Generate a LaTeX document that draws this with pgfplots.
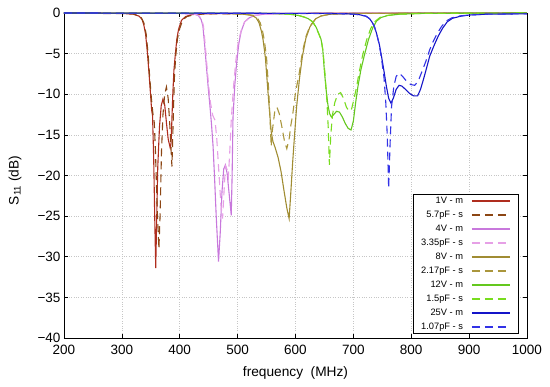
\documentclass[border=0pt]{standalone}
\usepackage{fontspec}
\setmainfont{Liberation Sans}
\usepackage{pgfplots}
\pgfplotsset{compat=1.18}
\definecolor{cA}{RGB}{175,45,30}
\definecolor{cB}{RGB}{140,70,20}
\definecolor{cC}{RGB}{200,120,220}
\definecolor{cD}{RGB}{230,160,230}
\definecolor{cE}{RGB}{160,140,50}
\definecolor{cF}{RGB}{170,150,60}
\definecolor{cG}{RGB}{100,200,30}
\definecolor{cH}{RGB}{120,220,30}
\definecolor{cI}{RGB}{20,20,200}
\definecolor{cJ}{RGB}{50,50,230}
\pgfplotsset{
  sol/.style={color=#1, draw=#1, line width=1.1pt, solid},
  das/.style={color=#1, draw=#1, line width=1.1pt, dash pattern=on 8pt off 5pt},
}
\begin{document}
\begin{tikzpicture}
\begin{axis}[at={(0,0)}, anchor=south west, scale only axis, width=463pt, height=325pt,
  xmin=200, xmax=1000, ymin=-40, ymax=0,
  xtick={200,300,...,1000}, ytick={-40,-35,...,0},
  yticklabels={−40,−35,−30,−25,−20,−15,−10,−5,0},
  tick align=inside, major tick length=4pt, tick style={black, line width=0.6pt},
  grid=major, major grid style={dotted, gray!45, line width=0.6pt},
  axis line style={black, line width=0.8pt},
  /pgf/number format/assume math mode=true,
  /pgf/number format/1000 sep={},
  tick label style={font=\fontsize{13.5}{15}\selectfont},
  xticklabel style={yshift=-4pt},
  xlabel={\fontsize{13.7}{16}\selectfont frequency\ \ (MHz)},
  ylabel={\fontsize{13.7}{16}\selectfont S\textsubscript{11} (dB)},
  every axis x label/.style={at={(axis description cs:0.5,0)}, anchor=base, yshift=-39pt},
  every axis y label/.style={at={([xshift=-49pt,yshift=-5pt]axis description cs:0,0.5)}, rotate=90, anchor=center},
  legend plot pos=right,
  legend cell align=right,
  legend image code/.code={\draw[#1, line width=1.5pt] (0pt,0pt) -- (38pt,0pt);},
  legend style={at={(rel axis cs:0.9827,0.0123)}, anchor=south east, draw=black, line width=0.8pt,
    font=\fontsize{9.3}{10}\selectfont, inner xsep=8pt, inner ysep=2pt, row sep=5pt, column sep=8pt,
    nodes={text height=6.5pt, text depth=2.5pt, inner sep=0pt}},
]
\addplot[sol=cA] coordinates {(200,0) (300,-0.05) (320,-0.15) (330,-0.4) (335,-0.8) (338,-1.5) (341,-2.6) (344,-4.8) (347,-7.5) (349.5,-10) (351.5,-12) (353,-12.6) (355,-18) (357,-26) (358.5,-31.4) (360,-26) (362,-19) (365,-14) (368,-11.4) (371,-10.6) (374,-11.3) (377,-13.5) (380,-15.5) (383.5,-16.6) (385,-16) (386.5,-13) (388,-10) (390,-7) (392.5,-5) (395,-3.2) (398,-2) (403,-0.9) (410,-0.45) (420,-0.2) (440,-0.1) (500,-0.05) (1000,0)};
\addlegendentry{1V - m}
\addplot[das=cB] coordinates {(200,0) (320,-0.1) (333,-0.5) (338,-1.2) (342,-2.6) (345,-4.8) (348,-7.8) (351,-10.5) (353.5,-12.3) (356,-13.5) (358,-17) (361,-24) (364,-29) (366,-25) (368.5,-17) (371,-12.5) (374,-10) (377,-9.1) (380,-10.5) (383,-14) (386.5,-18.9) (388,-15) (389.5,-11) (391,-7.5) (393.5,-5) (396,-3.2) (400,-1.9) (405,-0.9) (412,-0.45) (425,-0.2) (450,-0.1) (1000,0)};
\addlegendentry{5.7pF - s}
\addplot[sol=cC] coordinates {(200,0) (400,-0.05) (425,-0.15) (432,-0.3) (437,-0.8) (440,-1.6) (443,-3.9) (446,-6.5) (449,-9) (452,-11.3) (455,-13.8) (457.5,-16.3) (460,-20) (463,-25) (467,-30.6) (470,-27) (473,-22) (476,-19.2) (479,-18.7) (482,-19.8) (485,-22) (489,-24.9) (490.5,-20) (492,-12.9) (495,-9) (498,-6.4) (502,-3.8) (506,-2.3) (512,-1.1) (520,-0.6) (530,-0.3) (545,-0.15) (600,-0.05) (1000,0)};
\addlegendentry{4V - m}
\addplot[das=cD] coordinates {(200,0) (400,-0.05) (426,-0.15) (433,-0.3) (438,-0.8) (441,-1.6) (444,-3.9) (447,-6.5) (450,-9) (453,-11) (457,-12.6) (461,-13.2) (464,-15.5) (468,-20) (471,-23.5) (474,-25.3) (476.5,-22) (479,-18.8) (481.5,-19.2) (484,-20.2) (486.5,-17) (489,-13.2) (493,-9) (497,-5.8) (501,-3.6) (506,-2.2) (512,-1.1) (520,-0.6) (530,-0.3) (545,-0.15) (600,-0.05) (1000,0)};
\addlegendentry{3.35pF - s}
\addplot[sol=cE] coordinates {(200,0) (480,-0.05) (510,-0.15) (525,-0.3) (532,-0.6) (537,-1.2) (541,-2.2) (544,-3.3) (548,-5.5) (552,-9.3) (555,-12) (558,-14.6) (561,-15.8) (565,-16.6) (570,-17.8) (575,-19.5) (580,-21.8) (585,-24) (589,-25.3) (592,-22) (595,-18.5) (598,-15.4) (602,-11.5) (607,-8) (612,-5.3) (618,-3.1) (625,-1.7) (635,-0.7) (645,-0.35) (660,-0.15) (700,-0.05) (1000,0)};
\addlegendentry{8V - m}
\addplot[das=cF] coordinates {(200,0) (480,-0.05) (512,-0.15) (527,-0.3) (534,-0.6) (539,-1.2) (543,-2.2) (546,-3.3) (550,-5.5) (553.5,-9.3) (556,-13) (558,-16.4) (560,-14.5) (564,-12.2) (568,-11.6) (572,-12.4) (577,-14.2) (581,-15.8) (585,-16.7) (589,-15.5) (592,-13.8) (595,-12.6) (600,-9.8) (607,-7.2) (612,-4.8) (618,-2.9) (625,-1.6) (635,-0.7) (645,-0.35) (660,-0.15) (700,-0.05) (1000,0)};
\addlegendentry{2.17pF - s}
\addplot[sol=cG] coordinates {(200,0) (560,-0.05) (590,-0.15) (605,-0.3) (615,-0.5) (622,-0.7) (630,-1.1) (636,-1.8) (640,-2.5) (644,-3.2) (647,-4.4) (650,-7.2) (653,-9.5) (656,-11.3) (659,-12.4) (662,-12.8) (666,-12.5) (671,-12.1) (676,-12.2) (681,-12.8) (686,-13.6) (691,-14.2) (696,-14.4) (700,-13.3) (704,-11) (708,-9) (713,-7) (719,-5.2) (726,-3.3) (733,-1.9) (740,-1) (748,-0.55) (760,-0.3) (780,-0.15) (820,-0.05) (1000,0)};
\addlegendentry{12V - m}
\addplot[das=cH] coordinates {(200,0) (560,-0.05) (590,-0.15) (605,-0.3) (615,-0.5) (622,-0.7) (630,-1.1) (636,-1.9) (641,-2.7) (645,-3.5) (648,-5) (651,-7.5) (654,-10.5) (656.5,-14) (658.6,-18.7) (661,-15) (664,-12.5) (668,-11) (673,-10) (678,-9.8) (683,-10.5) (688,-11.6) (693,-12.1) (697,-11.8) (701,-10.6) (705,-9.3) (710,-7.3) (716,-5.2) (723,-3.3) (730,-1.9) (738,-1) (746,-0.55) (758,-0.3) (780,-0.15) (820,-0.05) (1000,0)};
\addlegendentry{1.5pF - s}
\addplot[sol=cI] coordinates {(200,0) (650,-0.05) (690,-0.1) (710,-0.2) (722,-0.4) (728,-0.7) (732,-1.1) (736,-1.6) (740,-2.5) (745,-3.9) (749,-5.5) (753,-7.2) (757,-9) (761,-10.5) (765,-11.1) (769,-10.5) (774,-9.4) (779,-8.9) (784,-9) (790,-9.4) (797,-9.9) (804,-10.2) (811,-10.2) (816,-9.4) (821,-8.2) (826,-6.9) (832,-5.3) (840,-3.9) (847,-2.8) (854,-1.9) (862,-1.1) (871,-0.66) (885,-0.4) (900,-0.25) (930,-0.15) (1000,-0.1)};
\addlegendentry{25V - m}
\addplot[das=cJ] coordinates {(200,0) (650,-0.05) (690,-0.1) (710,-0.2) (722,-0.4) (728,-0.7) (732,-1.1) (736,-1.6) (740,-2.5) (745,-4) (749,-5.8) (753,-8) (756,-11) (758.5,-15) (761,-21.6) (763.5,-16) (766,-11.5) (770,-9) (774,-7.8) (779,-7.4) (785,-7.8) (792,-8.4) (799,-8.8) (806,-8.9) (812,-8.4) (818,-7.3) (825,-6) (832,-4.5) (838,-3.5) (845,-2.5) (852,-1.7) (860,-1) (870,-0.6) (885,-0.35) (900,-0.25) (930,-0.15) (1000,-0.1)};
\addlegendentry{1.07pF - s}
\end{axis}
\pgfresetboundingbox
\path[use as bounding box] (-64pt,-49pt) rectangle (486pt,338pt);
\end{tikzpicture}
\end{document}
